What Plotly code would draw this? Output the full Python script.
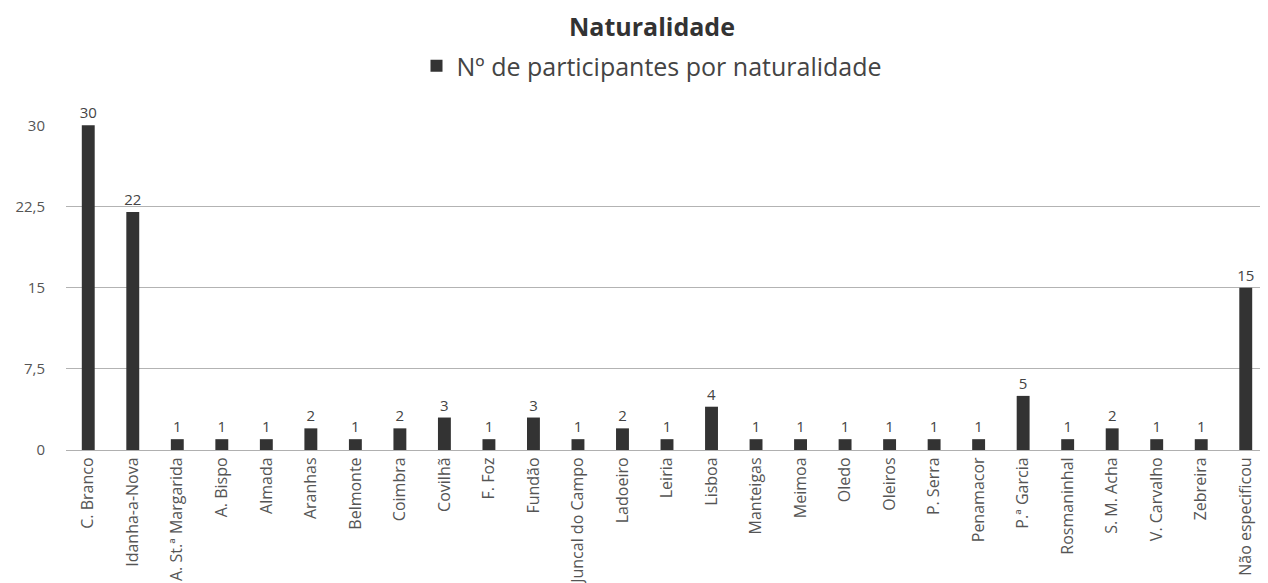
import plotly.graph_objects as go

categories = ["C. Branco", "Idanha-a-Nova", "A. St.ª Margarida", "A. Bispo", "Almada", "Aranhas",
              "Belmonte", "Coimbra", "Covilhã", "F. Foz", "Fundão", "Juncal do Campo", "Ladoeiro",
              "Leiria", "Lisboa", "Manteigas", "Meimoa", "Oledo", "Oleiros", "P. Serra", "Penamacor",
              "P.ª Garcia", "Rosmaninhal", "S. M. Acha", "V. Carvalho", "Zebreira", "Não especificou"]
values = [30, 22, 1, 1, 1, 2, 1, 2, 3, 1, 3, 1, 2, 1, 4, 1, 1, 1, 1, 1, 1, 5, 1, 2, 1, 1, 15]
series_name = "Nº de participantes por naturalidade"
tick_vals = [0, 7.5, 15, 22.5, 30]

FONT = "Open Sans"
W, H = 1260, 575  # page body adds an 8px offset
fig = go.Figure()
fig.add_trace(go.Bar(
    x=categories, y=values, name=series_name,
    marker=dict(color="#333333", line=dict(width=0)),
    text=[str(v) for v in values], textposition="outside", constraintext="none",
    textfont=dict(family=FONT, size=15, color="#444444"),
    cliponaxis=False,
))
fig.update_layout(
    width=W, height=H,
    margin=dict(l=58, r=0, t=117, b=133),
    paper_bgcolor="white", plot_bgcolor="white",
    separators=",.",
    font=dict(family=FONT, color="#555555"),
    title=dict(text="<b>Naturalidade</b>", x=644 / W, xanchor="center", xref="container",
               y=1 - 19 / H, yanchor="middle", yref="container",
               font=dict(family=FONT, size=25, color="#333333")),
    showlegend=True,
    legend=dict(orientation="h", x=644 / W, xanchor="center", xref="container",
                y=1 - 58 / H, yanchor="middle",
                yref="container", font=dict(family=FONT, size=25, color="#444444")),
    bargap=0.71,
    xaxis=dict(tickangle=-90, tickfont=dict(family=FONT, size=16, color="#555555"),
               showline=True, linecolor="#b0b0b0", linewidth=1, ticks="", showgrid=False,
               automargin=False),
    yaxis=dict(range=[0, 30.03], tickvals=tick_vals, tickfont=dict(family=FONT, size=15, color="#555555"),
               showgrid=True, gridcolor="#b3b3b3", gridwidth=1, zeroline=False,
               ticklabelstandoff=20, automargin=False),
)
fig.write_html("out.html")
